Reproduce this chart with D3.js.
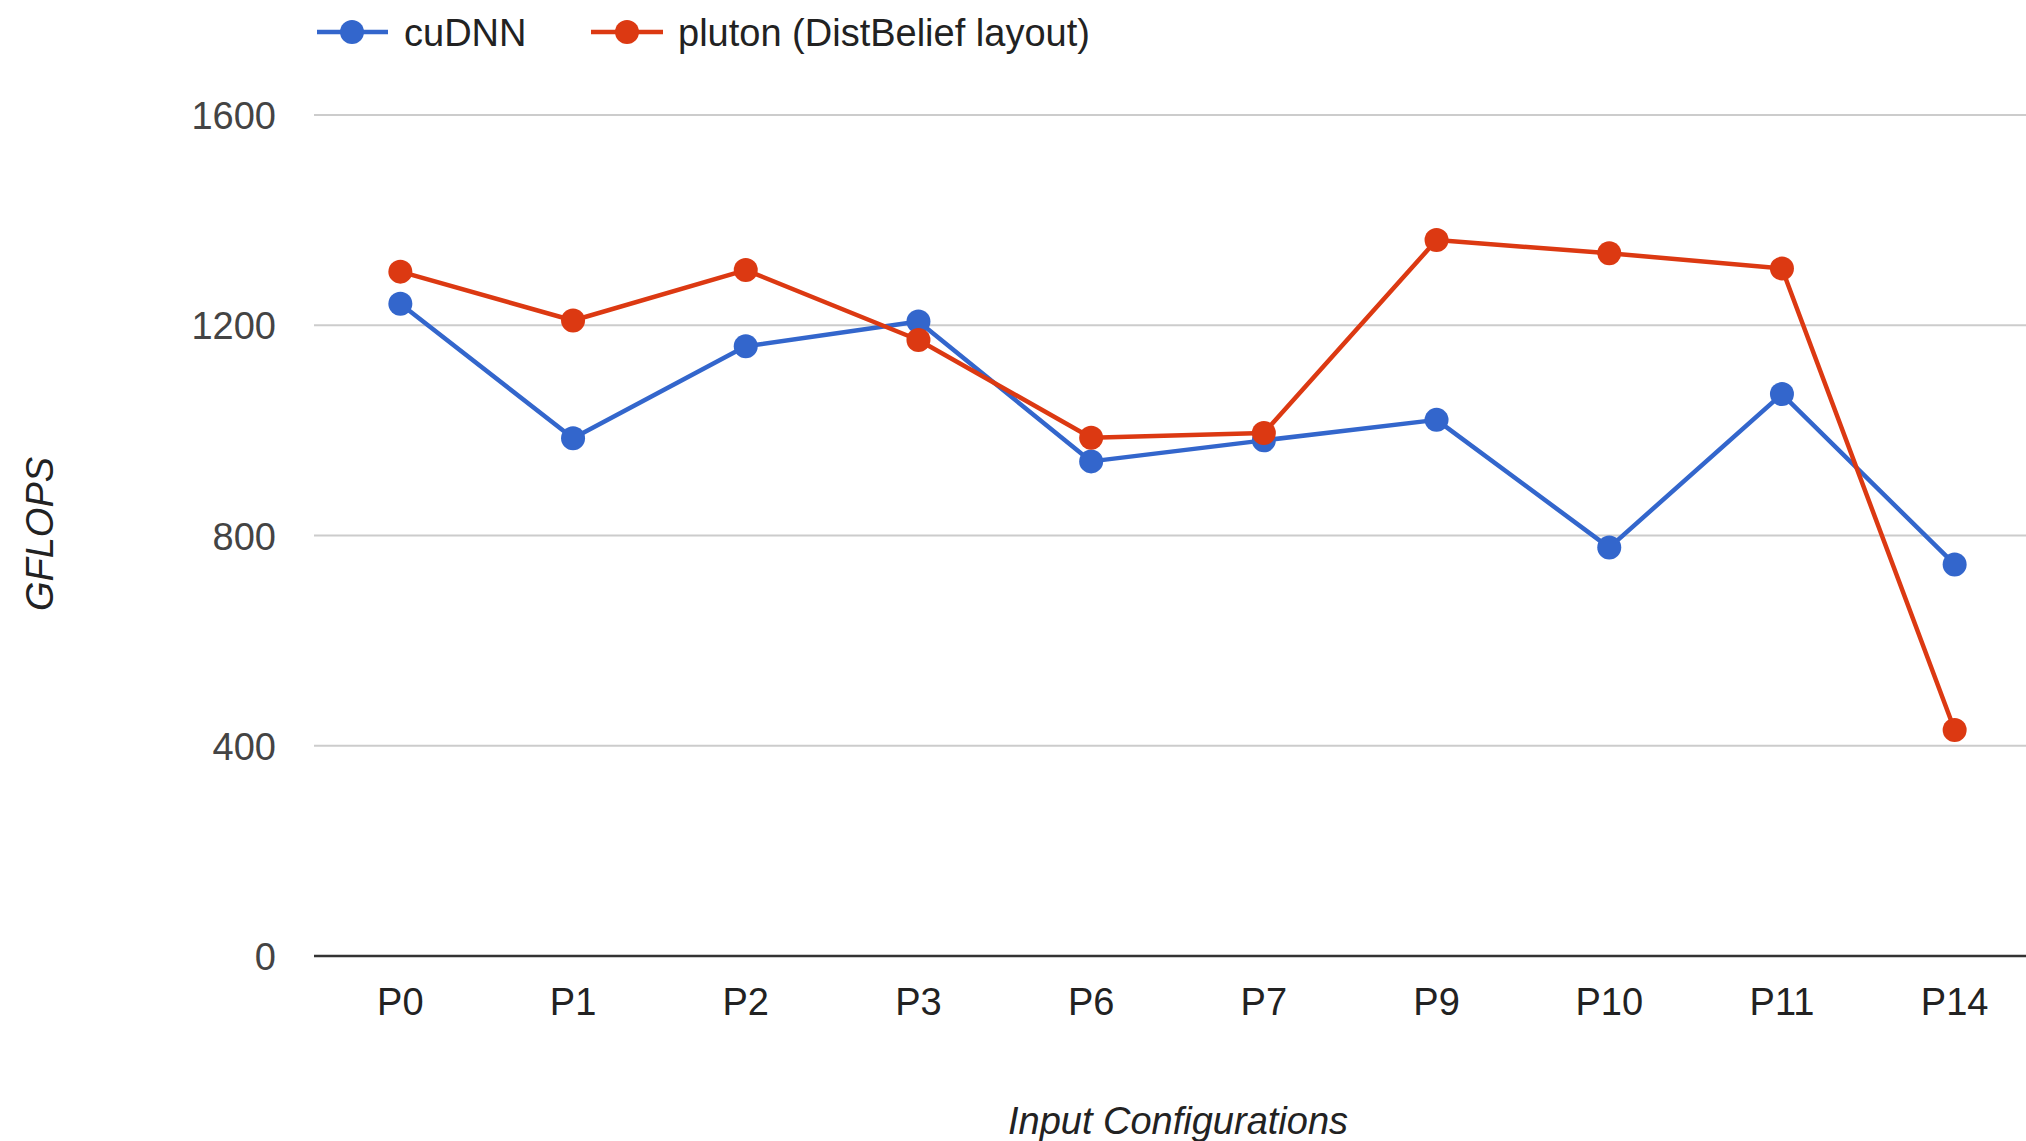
<!DOCTYPE html>
<html>
<head>
<meta charset="utf-8">
<script src="https://cdn.jsdelivr.net/npm/d3@7"></script>
<style>
  html, body { margin: 0; padding: 0; background: #fff; }
  svg { display: block; }
</style>
</head>
<body>
<script>
const categories = ["P0", "P1", "P2", "P3", "P6", "P7", "P9", "P10", "P11", "P14"];
const cudnnValues = [1241, 985, 1160, 1207, 941, 981, 1020, 777, 1069, 745];
const plutonValues = [1302, 1209, 1305, 1172, 986, 995, 1362, 1337, 1308, 430];
const seriesNames = ["cuDNN", "pluton (DistBelief layout)"];
const yTicks = [0, 400, 800, 1200, 1600];
const xTitle = "Input Configurations";
const yTitle = "GFLOPS";

const W = 2026, H = 1141;
const colors = ["#3366cc", "#dc3912"];
const font = "'Liberation Sans', Arial, sans-serif";
const fs = 38;

const svg = d3.select("body").append("svg").attr("width", W).attr("height", H);

const x = d3.scaleBand().domain(categories).range([314, 314 + 172.7 * categories.length]).paddingInner(0).paddingOuter(0);
const y = d3.scaleLinear().domain([0, 1600]).range([956, 115]);

// gridlines
svg.append("g").selectAll("line").data(yTicks.filter(d => d !== 0)).join("line")
  .attr("x1", 314).attr("x2", W)
  .attr("y1", d => y(d)).attr("y2", d => y(d))
  .attr("stroke", "#cccccc").attr("stroke-width", 2);

// y tick labels
const yAxis = d3.axisLeft(y).tickValues(yTicks).tickSize(0).tickPadding(0).tickFormat(d3.format("d"));
const gy = svg.append("g").attr("transform", "translate(276,0)").call(yAxis);
gy.select(".domain").remove();
gy.selectAll("text").attr("font-family", font).attr("font-size", fs).attr("fill", "#444").attr("dy", "0.36em");

// x tick labels
const xAxis = d3.axisBottom(x).tickSize(0).tickPadding(0);
const gx = svg.append("g").attr("transform", "translate(0,1001)").call(xAxis);
gx.select(".domain").remove();
gx.selectAll("text").attr("font-family", font).attr("font-size", fs).attr("fill", "#222").attr("dy", "0.36em");

// baseline
svg.append("line").attr("x1", 314).attr("x2", W).attr("y1", y(0)).attr("y2", y(0))
  .attr("stroke", "#333").attr("stroke-width", 2.5);

// series
const series = [cudnnValues, plutonValues];
const line = d3.line().x((d, i) => x(categories[i]) + x.bandwidth() / 2).y(d => y(d));
series.forEach((vals, si) => {
  svg.append("path").datum(vals).attr("d", line)
    .attr("fill", "none").attr("stroke", colors[si]).attr("stroke-width", 4.5).attr("stroke-linejoin", "round");
  svg.append("g").selectAll("circle").data(vals).join("circle")
    .attr("cx", (d, i) => x(categories[i]) + x.bandwidth() / 2)
    .attr("cy", d => y(d))
    .attr("r", 12).attr("fill", colors[si]);
});

// legend
const legendItems = [
  { name: seriesNames[0], x1: 317, x2: 388, cx: 352, tx: 404 },
  { name: seriesNames[1], x1: 591, x2: 663, cx: 627, tx: 678 }
];
const lg = svg.append("g");
legendItems.forEach((it, i) => {
  lg.append("line").attr("x1", it.x1).attr("x2", it.x2).attr("y1", 32).attr("y2", 32)
    .attr("stroke", colors[i]).attr("stroke-width", 4.5);
  lg.append("circle").attr("cx", it.cx).attr("cy", 32).attr("r", 12).attr("fill", colors[i]);
  lg.append("text").attr("x", it.tx).attr("y", 32).attr("dy", "0.36em")
    .attr("font-family", font).attr("font-size", fs).attr("fill", "#222").text(it.name);
});

// axis titles
svg.append("text").attr("x", 1178).attr("y", 1120).attr("dy", "0.36em").attr("text-anchor", "middle")
  .attr("font-family", font).attr("font-size", fs).attr("font-style", "italic").attr("fill", "#222").text(xTitle);
svg.append("text").attr("transform", "translate(39,534) rotate(-90)").attr("dy", "0.36em").attr("text-anchor", "middle")
  .attr("font-family", font).attr("font-size", fs).attr("font-style", "italic").attr("fill", "#222").text(yTitle);
</script>
</body>
</html>
